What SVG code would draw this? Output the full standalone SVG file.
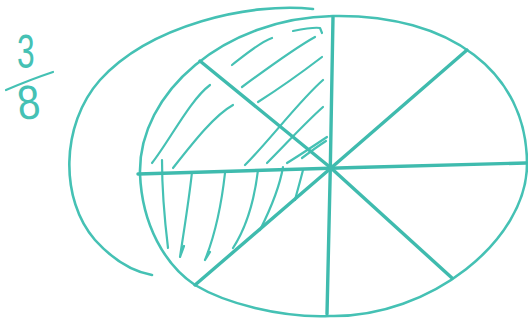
<svg xmlns="http://www.w3.org/2000/svg" width="528" height="322" viewBox="0 0 528 322">
<style>
.ln{fill:none;stroke:#45c1b4;stroke-linecap:round;stroke-linejoin:round}
.rim{stroke-width:2.6}
.spoke{stroke-width:3.4;stroke:#3fbbae}
.hatch{stroke-width:2.2}
.num{font-family:"Liberation Sans",Arial,sans-serif;font-size:48px;fill:#45c1b4}
</style>
<rect width="528" height="322" fill="#ffffff"/>
<g id="fraction">
<text class="num" transform="translate(17,68) scale(0.66,1)">3</text>
<path class="ln hatch" d="M6,90 C20,84 38,77 53,72"/>
<text class="num" transform="translate(19,120) rotate(-6) scale(0.85,1)">8</text>
</g>
<g id="circle">
<path class="ln rim" d="M333,16 C450,14 527,72 527,164 C527,240 430,318 330,316 C280,318 225,303 195,285 C165,265 142,225 140,174 C138,92 225,18 333,16 Z"/>
</g>
<g id="hatching">
<path class="ln hatch" d="M152,163 C170,140 190,100 210,85"/>
<path class="ln hatch" d="M173,168 C195,140 215,115 233,105"/>
<path class="ln hatch" d="M232,65 C245,55 260,42 272,38"/>
<path class="ln hatch" d="M242,87 C265,70 295,48 315,37"/>
<path class="ln hatch" d="M293,31 C303,29 315,27 320,28 L322,33"/>
<path class="ln hatch" d="M258,102 C280,88 305,70 322,57"/>
<path class="ln hatch" d="M245,165 C270,140 300,100 323,80"/>
<path class="ln hatch" d="M267,163 C285,145 305,123 323,107"/>
<path class="ln hatch" d="M287,163 C300,155 315,145 327,137"/>
<path class="ln hatch" d="M302,158 C310,152 318,146 326,141"/>
<path class="ln hatch" d="M162,160 C162,185 164,215 168,248"/>
<path class="ln hatch" d="M192,172 C189,200 184,230 180,257 L184,246"/>
<path class="ln hatch" d="M225,173 C222,200 215,235 205,260 L210,252"/>
<path class="ln hatch" d="M258,170 C255,195 248,225 233,248"/>
<path class="ln hatch" d="M283,167 C280,185 270,210 260,230"/>
<path class="ln hatch" d="M303,170 C300,182 297,192 295,200"/>
</g>
<g id="connectors">
<path class="ln spoke" d="M333,17 C332,110 329,220 327,314"/>
<path class="ln spoke" d="M138,174 C260,170 400,166 526,163"/>
<path class="ln spoke" d="M200,61 L331,168"/>
<path class="ln spoke" d="M195,285 L331,168"/>
<path class="ln spoke" d="M467,50 L331,168"/>
<path class="ln spoke" d="M452,278 L331,168"/>
<path class="ln rim" d="M313,9 C250,2 150,25 100,80 C60,125 60,200 95,240 C115,262 135,272 152,275"/>
</g>
</svg>
